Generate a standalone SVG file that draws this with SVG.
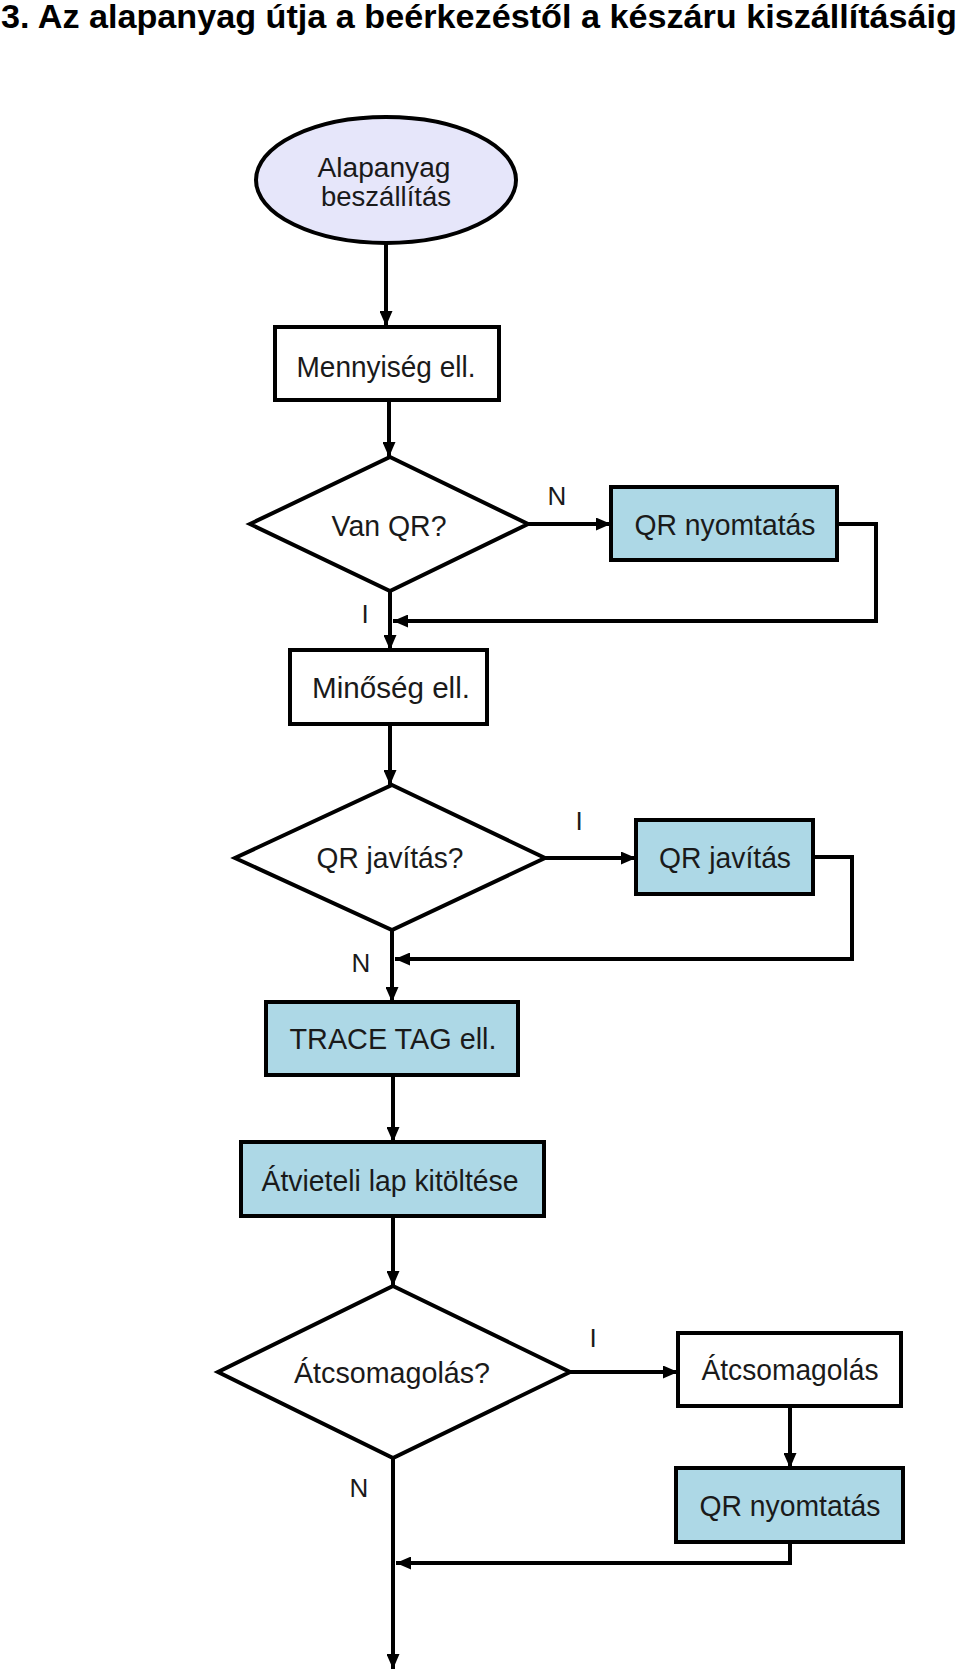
<svg xmlns="http://www.w3.org/2000/svg" width="960" height="1671" viewBox="0 0 960 1671">
<style>
.t{font-family:"Liberation Sans",Arial,sans-serif;font-size:30px;fill:#1a1a1a;text-anchor:middle}
.e{font-family:"Liberation Sans",Arial,sans-serif;font-size:27px;fill:#1a1a1a;text-anchor:middle}
.l{font-family:"Liberation Sans",Arial,sans-serif;font-size:26px;fill:#1a1a1a;text-anchor:middle}
.box{fill:#fff;stroke:#000;stroke-width:4}
.blue{fill:#add8e6;stroke:#000;stroke-width:4}
.c{fill:none;stroke:#000;stroke-width:4}
</style>
<defs>
<marker id="a" viewBox="0 0 15 13" refX="15" refY="6.5" markerWidth="15" markerHeight="13" markerUnits="userSpaceOnUse" orient="auto">
<path d="M0,0 L15,6.5 L0,13 z" fill="#000"/>
</marker>
</defs>
<rect width="960" height="1671" fill="#fff"/>
<text x="1" y="28" font-family="Liberation Sans,Arial,sans-serif" font-weight="bold" font-size="33" textLength="956" lengthAdjust="spacingAndGlyphs">3. Az alapanyag útja a beérkezéstől a készáru kiszállításáig</text>

<g id="connectors">
<path class="c" d="M386,243 V326" marker-end="url(#a)"/>
<path class="c" d="M389,400 V457" marker-end="url(#a)"/>
<path class="c" d="M528,524 H611" marker-end="url(#a)"/>
<path class="c" d="M837,524 H876 V621 H393" marker-end="url(#a)"/>
<path class="c" d="M390,591 V650" marker-end="url(#a)"/>
<path class="c" d="M390,724 V785" marker-end="url(#a)"/>
<path class="c" d="M545,858 H636" marker-end="url(#a)"/>
<path class="c" d="M813,857 H852 V959 H395" marker-end="url(#a)"/>
<path class="c" d="M392,930 V1002" marker-end="url(#a)"/>
<path class="c" d="M393,1075 V1142" marker-end="url(#a)"/>
<path class="c" d="M393,1216 V1286" marker-end="url(#a)"/>
<path class="c" d="M570,1372 H678" marker-end="url(#a)"/>
<path class="c" d="M790,1406 V1468" marker-end="url(#a)"/>
<path class="c" d="M790,1542 V1563 H396" marker-end="url(#a)"/>
<path class="c" d="M393,1458 V1669" marker-end="url(#a)"/>
<text class="l" x="557" y="505">N</text>
<text class="l" x="365" y="623">I</text>
<text class="l" x="579" y="830">I</text>
<text class="l" x="361" y="972">N</text>
<text class="l" x="593" y="1347">I</text>
<text class="l" x="359" y="1497">N</text>
</g>

<g id="start">
<ellipse cx="386" cy="180" rx="130" ry="63" fill="#e6e6fa" stroke="#000" stroke-width="4"/>
<text class="e" x="384" y="177" textLength="133" lengthAdjust="spacingAndGlyphs">Alapanyag</text>
<text class="e" x="386" y="206" textLength="130" lengthAdjust="spacingAndGlyphs">beszállítás</text>
</g>
<g id="mennyiseg">
<rect class="box" x="275" y="327" width="224" height="73"/>
<text class="t" x="386" y="377" textLength="179" lengthAdjust="spacingAndGlyphs">Mennyiség ell.</text>
</g>
<g id="vanqr">
<polygon class="box" points="390,457 528,524 390,591 250,524"/>
<text class="t" x="389" y="536" textLength="115" lengthAdjust="spacingAndGlyphs">Van QR?</text>
</g>
<g id="qrnyomtatas1">
<rect class="blue" x="611" y="487" width="226" height="73"/>
<text class="t" x="725" y="535" textLength="181" lengthAdjust="spacingAndGlyphs">QR nyomtatás</text>
</g>
<g id="minoseg">
<rect class="box" x="290" y="650" width="197" height="74"/>
<text class="t" x="391" y="698" textLength="158" lengthAdjust="spacingAndGlyphs">Minőség ell.</text>
</g>
<g id="qrjavitas-q">
<polygon class="box" points="392,785 545,858 392,930 235,858"/>
<text class="t" x="390" y="868" textLength="147" lengthAdjust="spacingAndGlyphs">QR javítás?</text>
</g>
<g id="qrjavitas">
<rect class="blue" x="636" y="820" width="177" height="74"/>
<text class="t" x="725" y="868" textLength="132" lengthAdjust="spacingAndGlyphs">QR javítás</text>
</g>
<g id="tracetag">
<rect class="blue" x="266" y="1002" width="252" height="73"/>
<text class="t" x="393" y="1049" textLength="207" lengthAdjust="spacingAndGlyphs">TRACE TAG ell.</text>
</g>
<g id="atvieteli">
<rect class="blue" x="241" y="1142" width="303" height="74"/>
<text class="t" x="390" y="1191" textLength="257" lengthAdjust="spacingAndGlyphs">Átvieteli lap kitöltése</text>
</g>
<g id="atcsomagolas-q">
<polygon class="box" points="393,1286 570,1372 393,1458 218,1372"/>
<text class="t" x="392" y="1383" textLength="196" lengthAdjust="spacingAndGlyphs">Átcsomagolás?</text>
</g>
<g id="atcsomagolas">
<rect class="box" x="678" y="1333" width="223" height="73"/>
<text class="t" x="790" y="1380" textLength="177" lengthAdjust="spacingAndGlyphs">Átcsomagolás</text>
</g>
<g id="qrnyomtatas2">
<rect class="blue" x="676" y="1468" width="227" height="74"/>
<text class="t" x="790" y="1516" textLength="181" lengthAdjust="spacingAndGlyphs">QR nyomtatás</text>
</g>
</svg>
